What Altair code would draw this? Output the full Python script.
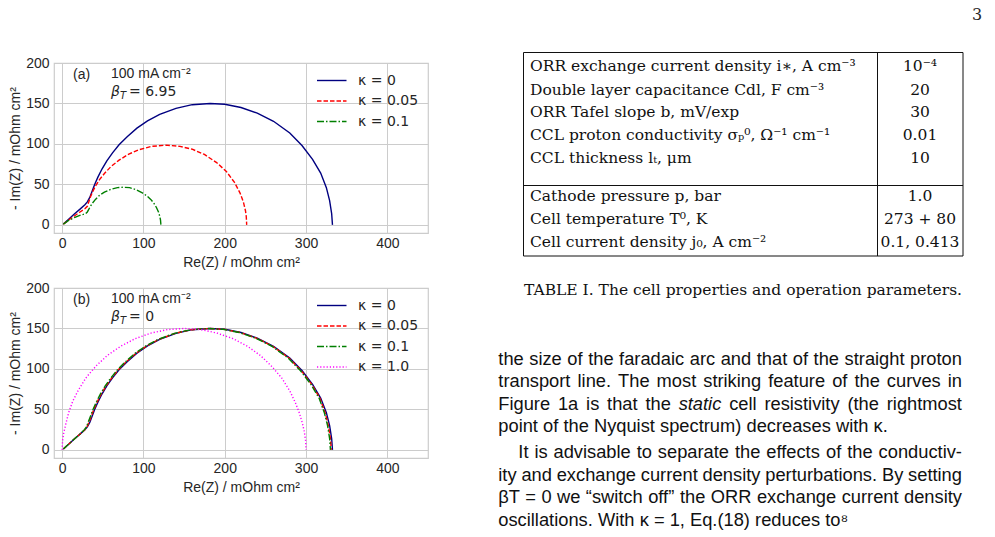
import altair as alt
import pandas as pd

# ---------------- data ----------------
X_TICKS = [0, 100, 200, 300, 400]
Y_TICKS = [0, 50, 100, 150, 200]

# panel (a): beta_T = 6.95
A_K0_X = [1.5, 8, 15, 22, 28, 31, 34, 37, 40, 44, 49, 55, 62, 70, 80, 92, 105, 120, 140, 160,
          182, 200, 220, 240, 260, 280, 295, 308, 318, 325, 329, 331.5, 332.5]
A_K0_Y = [1, 7, 13.5, 19.5, 25, 28.5, 34, 42, 50, 59, 69, 79, 89, 99, 109, 119.5, 128.5, 136.5, 144, 148.5,
          150, 149, 145, 138, 128, 113.5, 98, 81, 64, 46, 30, 14, 0]
A_K005_X = [1.5, 8, 15, 22, 28, 31, 35, 38, 41, 46, 52, 60, 70, 82, 95, 110, 128, 145, 160, 175,
            190, 202, 212, 219, 223, 225.5, 226.5, 227]
A_K005_Y = [1, 6, 11, 16, 20, 23, 35, 42, 48, 56, 63.5, 72, 80, 87.5, 93, 97, 98.5, 97, 93.5, 87,
            77, 66, 52.5, 39, 28, 17.5, 10, 0]
A_K01_X = [1.5, 8, 15, 21, 26, 29, 31, 34, 37, 41, 46, 52, 60, 68, 75, 83, 91, 98, 104, 109,
           113, 116, 118.5, 120, 121, 121.5]
A_K01_Y = [1, 5.5, 9, 11.5, 13, 14, 16, 21.5, 26.5, 31.5, 36.5, 40.5, 44, 46, 46.5, 46, 43.5, 40, 36, 31.5,
           26.5, 21.5, 16, 11, 6, 0]

# panel (b): beta_T = 0
B_K0_X = A_K0_X
B_K0_Y = A_K0_Y
B_K005_X = [1.5, 8, 15, 22, 28, 30.5, 33, 36, 39, 43, 48, 54, 61, 69, 79, 91, 104, 119, 139, 159,
            181, 199, 219, 239, 259, 279, 294, 307, 317, 323.5, 327.5, 330, 331]
B_K005_Y = [1, 7, 13.5, 19.5, 25, 28.5, 34, 42, 50, 59, 69, 79, 89, 99, 109, 119.5, 128.5, 136.5, 144, 148.5,
            150, 149, 145, 138, 128, 113.5, 98, 81, 64, 46, 30, 14, 0]
B_K01_X = [1.5, 8, 15, 22, 27.5, 30, 32, 35, 38, 42, 47, 53, 60, 68, 78, 90, 103, 118, 138, 158,
           180, 198, 218, 238, 258, 278, 293, 306, 316, 322.5, 326.5, 329, 330]
B_K01_Y = [1, 7, 13.5, 19.5, 25, 28.5, 34, 42, 50, 59, 69, 79, 89, 99, 109, 119.5, 128.5, 136.5, 144, 148.5,
           150, 149, 145, 138, 128, 113.5, 98, 81, 64, 46, 30, 14, 0]
B_K1_X = [0, 0.5, 2, 4.5, 8, 13, 20, 30, 42, 56, 72, 90, 110, 130, 150, 170, 190, 210, 228, 244,
          258, 270, 280, 287, 292, 295.5, 298, 299.5, 300]
B_K1_Y = [0, 11, 21, 32, 46, 60, 74, 90, 104, 117, 128, 137.5, 144.5, 148.7, 150, 148.7, 144.5, 137.5, 128, 116.5,
          103, 89, 73, 58, 45, 33, 22, 11, 0]

LABELS_A = ["κ = 0", "κ = 0.05", "κ = 0.1"]
LABELS_B = ["κ = 0", "κ = 0.05", "κ = 0.1", "κ = 1.0"]

TABLE_LABELS = [
    "ORR exchange current density i∗, A cm⁻³",
    "Double layer capacitance Cdl, F cm⁻³",
    "ORR Tafel slope b, mV/exp",
    "CCL proton conductivity σₚ⁰, Ω⁻¹ cm⁻¹",
    "CCL thickness lₜ, μm",
    "Cathode pressure p, bar",
    "Cell temperature T⁰, K",
    "Cell current density j₀, A cm⁻²",
]
TABLE_VALUES = ["10⁻⁴", "20", "30", "0.01", "10", "1.0", "273 + 80", "0.1, 0.413"]
CAPTION = "TABLE I. The cell properties and operation parameters."
PARAGRAPH = [
    "the size of the faradaic arc and that of the straight proton",
    "transport line.  The most striking feature of the curves in",
    "Figure 1a is that the _static_ cell resistivity (the rightmost",
    "point of the Nyquist spectrum) decreases with κ.",
    "It is advisable to separate the effects of the conductiv-",
    "ity and exchange current density perturbations. By setting",
    "βT = 0 we “switch off” the ORR exchange current density",
    "oscillations. With κ = 1, Eq.(18) reduces to⁸",
]

# ---------------- styling ----------------
SANS = "Liberation Sans"
MATH = "DejaVu Sans"
SERIF = "DejaVu Serif"
TXT = "#262626"
INK = "#111111"
NAVY, RED, GREEN, MAG = "#000080", "#ff0000", "#007f00", "#ff00ff"
STYLES = [(NAVY, None), (RED, [4.5, 2]), (GREEN, [7, 2, 1.5, 2]), (MAG, [1.2, 2])]
W, H = 374, 170

xscale = alt.Scale(domain=[-10, 450], nice=False, zero=False)
yscale = alt.Scale(domain=[-10, 200], nice=False, zero=False)
xaxis = alt.Axis(values=X_TICKS, title="Re(Z) / mOhm cm²", titleY=33, titleBaseline="alphabetic",
                 labelPadding=3)
yaxis = alt.Axis(values=Y_TICKS, title="- Im(Z) / mOhm cm²", titleX=-35, titleBaseline="alphabetic",
                 labelPadding=5)

dummy = pd.DataFrame({"k": [0]})


def curve(xs, ys, color, dash):
    df = pd.DataFrame({"x": xs, "y": ys, "i": list(range(len(xs)))})
    kw = {"strokeDash": dash} if dash else {}
    return alt.Chart(df).mark_line(color=color, strokeWidth=1.4, **kw).encode(
        x=alt.X("x:Q", scale=xscale, axis=xaxis),
        y=alt.Y("y:Q", scale=yscale, axis=yaxis),
        order="i:Q",
    )


def txt(x, y, s, size=14, font=SANS, align="left", baseline="middle", style=None, color=TXT):
    kw = {"fontStyle": style} if style else {}
    return alt.Chart(dummy).mark_text(align=align, baseline=baseline, font=font, fontSize=size,
                                      color=color, **kw).encode(
        x=alt.value(x), y=alt.value(y), text=alt.value(s))


def legend(labels):
    layers = []
    for i, lab in enumerate(labels):
        color, dash = STYLES[i]
        yy = 17.5 + 20.5 * i
        kw = {"strokeDash": dash} if dash else {}
        layers.append(alt.Chart(dummy).mark_rule(color=color, strokeWidth=1.4, **kw).encode(
            x=alt.value(263), x2=alt.value(292.5), y=alt.value(yy)))
        layers.append(txt(304, yy, lab, font=MATH))
    return layers


# Arial / Liberation Sans advance widths (per 1000 em) for justification
_AW = {" ": 278, "(": 333, ")": 333, ",": 278, "-": 333, ".": 278, "=": 584, "“": 333, "”": 333,
       "f": 278, "i": 222, "j": 222, "l": 222, "t": 278, "r": 333, "c": 500, "k": 500, "s": 500,
       "v": 500, "x": 500, "y": 500, "z": 500, "m": 833, "w": 722, "I": 278, "F": 611, "T": 611,
       "R": 722, "O": 778, "N": 722, "W": 944, "B": 667, "E": 667, "q": 556, "κ": 500, "β": 570,
       "⁸": 333}


def tw(s, size):
    return sum(_AW.get(c, 556) for c in s) * size / 1000.0


def justify(line, left, right, yb, size, justify_line=True):
    words = line.split()
    widths = [tw(w.strip("_"), size) for w in words]
    gap = tw(" ", size)
    if justify_line and len(words) > 1:
        gap = (right - left - sum(widths)) / (len(words) - 1)
    out = []
    x = left
    for w, wd in zip(words, widths):
        italic = w.startswith("_")
        out.append(txt(x - OX, yb - OY, w.strip("_"), size=size, font=SANS, baseline="alphabetic",
                       style="italic" if italic else None, color=INK))
        x += wd + gap
    return out


OX, OY = 54, 63  # page origin of plot (a)'s area


def page_text():
    layers = [txt(977 - OX, 15 - OY, "3", size=16, font=SERIF, align="center")]
    layers.append(alt.Chart(dummy).mark_rect(fillOpacity=0, stroke=INK, strokeWidth=1).encode(
        x=alt.value(523.5 - OX), x2=alt.value(963 - OX), y=alt.value(52.5 - OY), y2=alt.value(256 - OY)))
    layers.append(alt.Chart(dummy).mark_rule(color=INK, strokeWidth=1).encode(
        x=alt.value(877.5 - OX), y=alt.value(52.5 - OY), y2=alt.value(256 - OY)))
    layers.append(alt.Chart(dummy).mark_rule(color=INK, strokeWidth=1).encode(
        x=alt.value(523.5 - OX), x2=alt.value(963 - OX), y=alt.value(185.5 - OY)))
    row_base = [71, 94.5, 117, 139.5, 163, 200.5, 223.5, 246.5]
    for lab, val, yb in zip(TABLE_LABELS, TABLE_VALUES, row_base):
        layers.append(txt(530 - OX, yb - OY, lab, size=15.5, font=SERIF, baseline="alphabetic", color=INK))
        layers.append(txt(920 - OX, yb - OY, val, size=15.5, font=SERIF, align="center",
                          baseline="alphabetic", color=INK))
    layers.append(txt(743 - OX, 295 - OY, CAPTION, size=15.5, font=SERIF, align="center",
                      baseline="alphabetic", color=INK))
    par_base = [364.5, 387, 409.5, 432, 458, 480.5, 503, 525.5]
    par_left = [498.3, 498.3, 498.3, 498.3, 518.3, 498.3, 498.3, 498.3]
    last = [False, False, False, True, False, False, False, True]
    for line, yb, xl, ls in zip(PARAGRAPH, par_base, par_left, last):
        layers += justify(line, xl, 962, yb, 18.3, justify_line=not ls)
    return layers


def panel(series, labels, tag, beta, extra=()):
    layers = [curve(xs, ys, STYLES[i][0], STYLES[i][1]) for i, (xs, ys) in enumerate(series)]
    layers += legend(labels)
    layers += [
        txt(19, 12, tag),
        txt(57, 11, "100 mA cm⁻²"),
        txt(57, 29, "β", font=MATH, style="italic"),
        txt(66, 33, "T", size=10, font=MATH, style="italic"),
        txt(75, 29, "= " + beta, font=MATH),
    ]
    layers += list(extra)
    return alt.layer(*layers).properties(width=W, height=H,
                                         view=alt.ViewBackground(stroke="#cccccc", strokeWidth=1.2))


plot_a = panel([(A_K0_X, A_K0_Y), (A_K005_X, A_K005_Y), (A_K01_X, A_K01_Y)], LABELS_A, "(a)", "6.95",
               extra=page_text())
plot_b = panel([(B_K0_X, B_K0_Y), (B_K005_X, B_K005_Y), (B_K01_X, B_K01_Y), (B_K1_X, B_K1_Y)],
               LABELS_B, "(b)", "0")

chart = alt.vconcat(plot_a, plot_b, spacing=55, bounds="flush").properties(
    autosize=alt.AutoSizeParams(type="none"),
    padding={"left": 54, "top": 63, "right": 995 - 54 - W, "bottom": 474},
    background="white",
).configure_axis(
    grid=True, gridColor="#cccccc", gridWidth=1, domain=False, ticks=False,
    labelFont=SANS, labelFontSize=14, labelColor=TXT,
    titleFont=SANS, titleFontSize=14, titleFontWeight="normal", titleColor=TXT,
)

chart.save("out.html", embed_options={"renderer": "svg", "actions": False})
